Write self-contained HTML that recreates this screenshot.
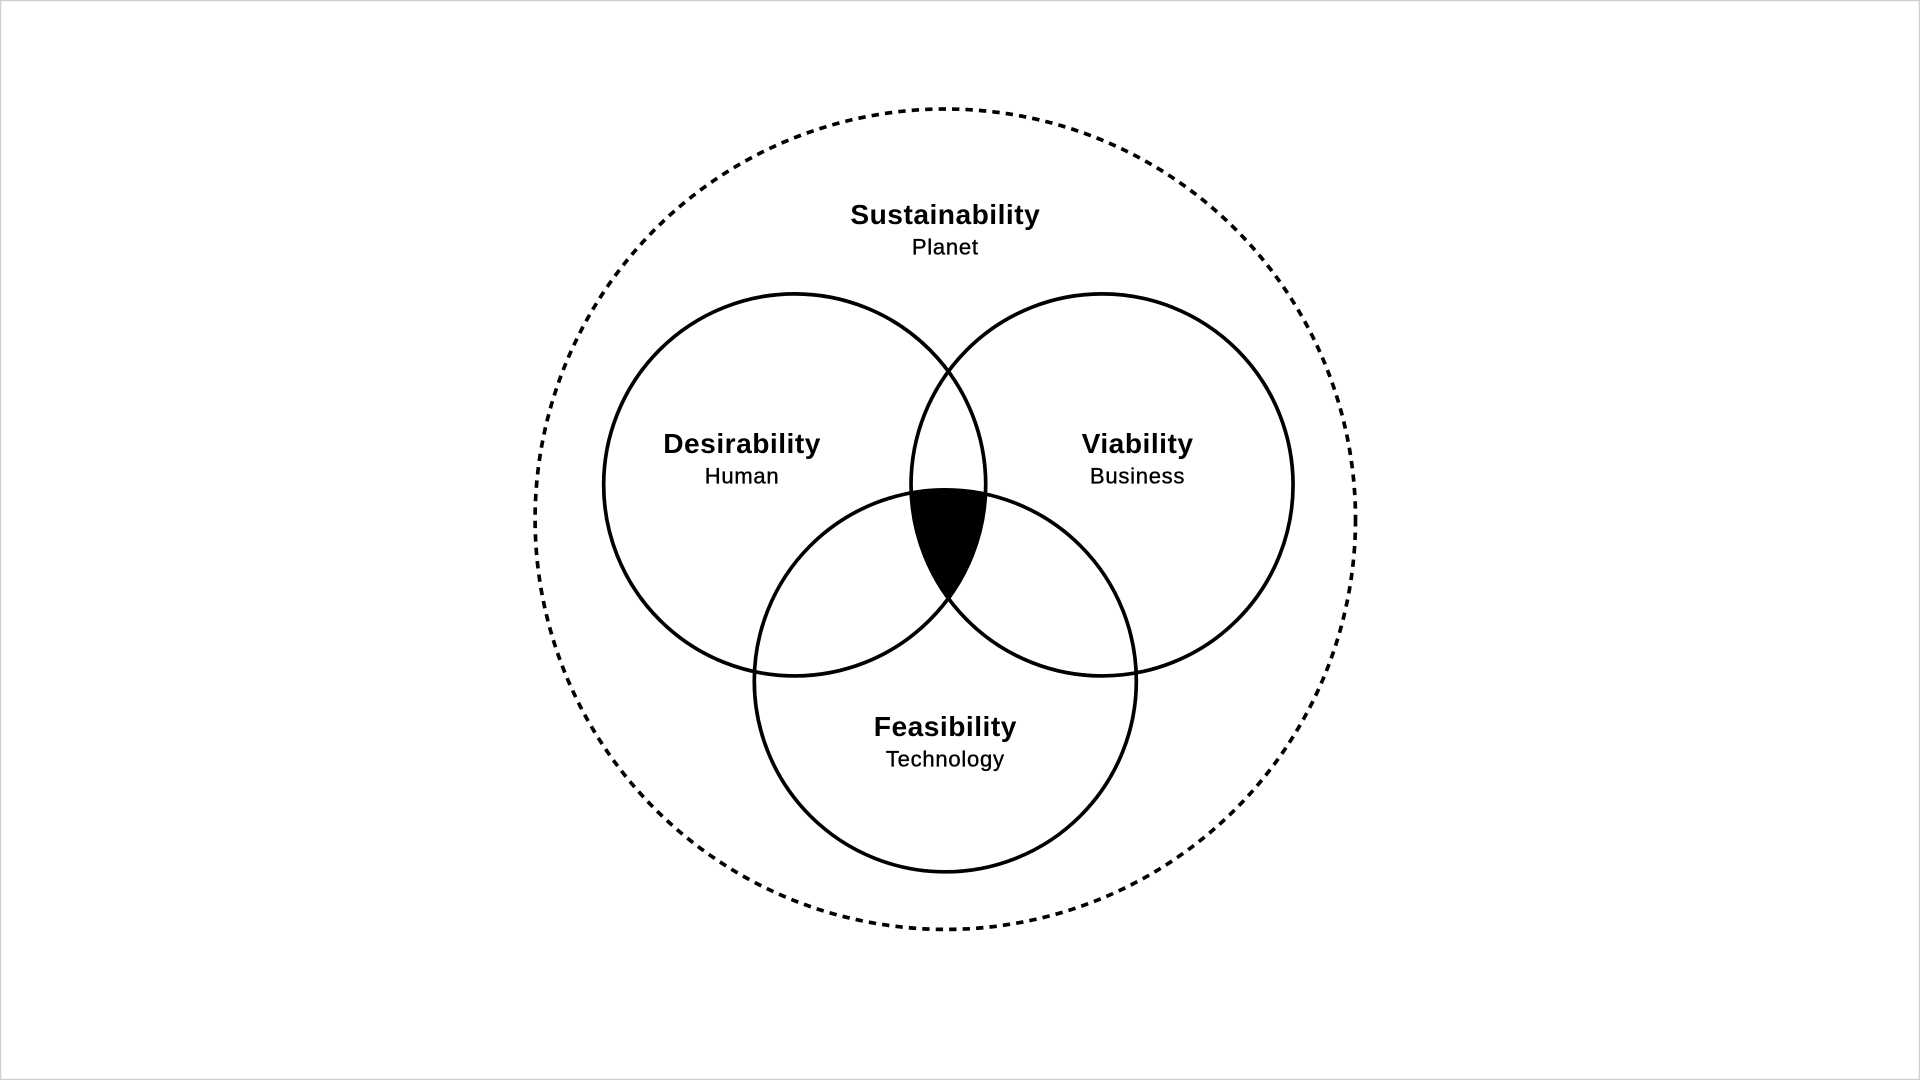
<!DOCTYPE html>
<html><head><meta charset="utf-8"><style>
html,body{margin:0;padding:0;background:#fff;}
svg{display:block;}
text{font-family:"Liberation Sans",sans-serif;fill:#000;text-anchor:middle;}
.t{font-size:23px;font-weight:bold;letter-spacing:0.4px;}
.s{font-size:18px;letter-spacing:0.6px;stroke:#000;stroke-width:0.3px;}
</style></head><body>
<svg width="1920" height="1080" viewBox="0 0 1568 882" xmlns="http://www.w3.org/2000/svg">
<rect x="0.5" y="0.5" width="1567" height="881" fill="#fff" stroke="#cfcfcf" stroke-width="1"/>
<defs>
<clipPath id="cL"><circle cx="649" cy="396" r="156"/></clipPath>
<clipPath id="cR"><circle cx="900" cy="396" r="156"/></clipPath>
</defs>
<circle cx="772" cy="424" r="335" fill="none" stroke="#000" stroke-width="3" stroke-dasharray="6 5"/>
<g clip-path="url(#cL)"><g clip-path="url(#cR)"><circle cx="772" cy="556" r="156" fill="#000"/></g></g>
<circle cx="649" cy="396" r="156" fill="none" stroke="#000" stroke-width="3"/>
<circle cx="900" cy="396" r="156" fill="none" stroke="#000" stroke-width="3"/>
<circle cx="772" cy="556" r="156" fill="none" stroke="#000" stroke-width="3"/>
<text class="t" x="772" y="183">Sustainability</text>
<text class="s" x="772" y="208">Planet</text>
<text class="t" x="606" y="370">Desirability</text>
<text class="s" x="606" y="395">Human</text>
<text class="t" x="929" y="370">Viability</text>
<text class="s" x="929" y="395">Business</text>
<text class="t" x="772" y="601">Feasibility</text>
<text class="s" x="772" y="626">Technology</text>
</svg>
</body></html>
